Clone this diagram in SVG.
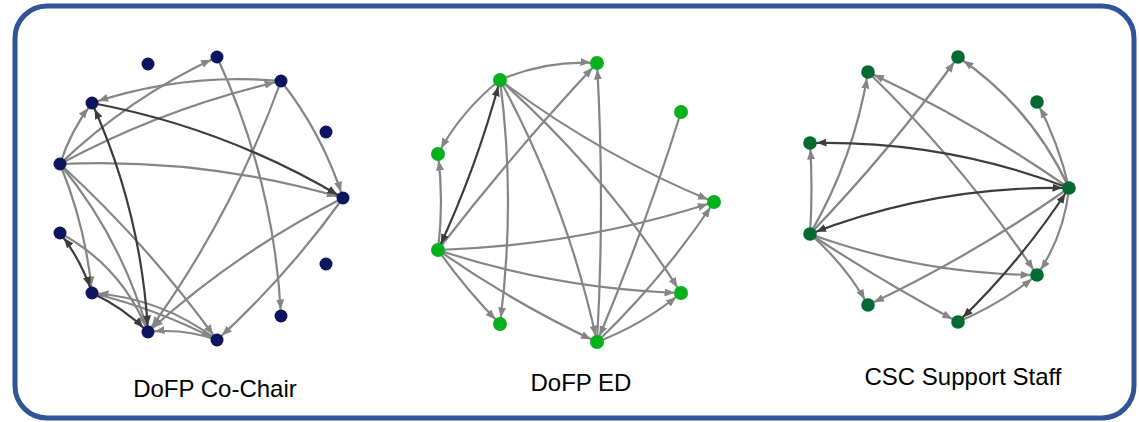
<svg xmlns="http://www.w3.org/2000/svg" width="1139" height="422" viewBox="0 0 1139 422">
<style>
.e{fill:none;stroke:#858585;stroke-width:2.2}
.dk{fill:none;stroke:#3c3c3c;stroke-width:2.2}
.n1{fill:#0c165e}
.n2{fill:#07b01d}
.n3{fill:#036a31}
.lbl{font-family:"Liberation Sans",Arial,sans-serif;font-size:24px;fill:#000;text-anchor:middle}
</style>
<defs>
<marker id="aL" markerUnits="userSpaceOnUse" markerWidth="10" markerHeight="8" refX="16.5" refY="4" orient="auto-start-reverse"><path d="M0,0 L10,4 L0,8 z" fill="#858585"/></marker>
<marker id="aD" markerUnits="userSpaceOnUse" markerWidth="10" markerHeight="8" refX="16.5" refY="4" orient="auto-start-reverse"><path d="M0,0 L10,4 L0,8 z" fill="#3c3c3c"/></marker>
</defs>
<rect x="0" y="0" width="1139" height="422" fill="#fff"/>
<rect id="frame" x="15" y="6" width="1119" height="412" rx="32" ry="32" fill="none" stroke="#2f5597" stroke-width="5"/>

<g id="connectors">
<!-- graph 1 -->
<g marker-end="url(#aL)">
<path class="e" d="M60 164 Q129.5 97.3 217 57"/>
<path class="e" d="M60 164 Q164.9 107.5 281 81"/>
<path class="e" d="M60 164 Q70.7 130.7 92 103"/>
<path class="e" d="M60 164 Q204.3 157.2 343 198"/>
<path class="e" d="M60 164 Q85.7 226.1 92 293"/>
<path class="e" d="M60 164 Q121.6 238.8 148 332"/>
<path class="e" d="M60 164 Q147.5 244 217 340"/>
<path class="e" d="M281 81 Q184.1 72.2 92 103"/>
<path class="e" d="M281 81 Q322.6 133.9 343 198"/>
<path class="e" d="M281 81 Q232.2 215.9 148 332"/>
<path class="e" d="M217 57 Q274.2 180.3 281 316"/>
<path class="e" d="M343 198 Q236.5 251.8 148 332"/>
<path class="e" d="M343 198 Q287.5 275.6 217 340"/>
<path class="e" d="M60 233 Q122 266.5 148 332"/>
<path class="e" d="M217 340 Q161.5 297.9 92 293"/>
<path class="e" d="M92 293 Q157.3 309.1 217 340"/>
<path class="e" d="M217 340 Q183.4 328 148 332"/>
</g>
<g marker-end="url(#aD)">
<path class="dk" d="M92 103 Q226 128 343 198"/>
<path class="dk" d="M92 103 Q141.4 212.3 148 332" marker-start="url(#aD)"/>
<path class="dk" d="M60 233 Q81.3 260.2 92 293" marker-start="url(#aD)"/>
<path class="dk" d="M92 293 Q123.4 307.6 148 332"/>
</g>
<!-- graph 2 -->
<g marker-end="url(#aL)">
<path class="e" d="M500 80 Q546.4 59.7 597 63"/>
<path class="e" d="M500 80 Q461.3 110.6 438 154"/>
<path class="e" d="M500 80 Q516 202 500 324"/>
<path class="e" d="M500 80 Q567.3 204 597 342"/>
<path class="e" d="M500 80 Q605.7 173.5 681 293"/>
<path class="e" d="M500 80 Q599 155 714 202"/>
<path class="e" d="M438 250 Q444 202 438 154"/>
<path class="e" d="M438 250 Q512.9 152.7 597 63"/>
<path class="e" d="M438 250 Q579.4 245.7 714 202"/>
<path class="e" d="M438 250 Q556.4 289.2 681 293"/>
<path class="e" d="M438 250 Q513.5 303 597 342"/>
<path class="e" d="M438 250 Q466 289.6 500 324"/>
<path class="e" d="M597 342 Q605 202.5 597 63"/>
<path class="e" d="M597 342 Q663.2 278.4 714 202"/>
<path class="e" d="M597 342 Q643 324.5 681 293"/>
<path class="e" d="M681 112 Q644.6 229 597 342"/>
</g>
<g marker-end="url(#aD)">
<path class="dk" d="M500 80 Q476.5 167.7 438 250" marker-start="url(#aD)"/>
</g>
<!-- graph 3 -->
<g marker-end="url(#aL)">
<path class="e" d="M1069 188 Q973.5 121.4 868 72"/>
<path class="e" d="M1069 188 Q1031.7 107.1 958 57"/>
<path class="e" d="M1069 188 Q1058.6 143 1037 102"/>
<path class="e" d="M1069 188 Q1064.2 235.7 1037 275"/>
<path class="e" d="M1069 188 Q973.5 255.1 868 305"/>
<path class="e" d="M810 234 Q813 188.5 810 143"/>
<path class="e" d="M810 234 Q854 158.4 868 72"/>
<path class="e" d="M810 234 Q890.2 150.6 958 57"/>
<path class="e" d="M810 234 Q919.9 274.1 1037 275"/>
<path class="e" d="M810 234 Q845.2 264.5 868 305"/>
<path class="e" d="M810 234 Q882 281.4 958 322"/>
<path class="e" d="M868 72 Q963.3 164.5 1037 275"/>
<path class="e" d="M958 322 Q1000.6 303.7 1037 275"/>
</g>
<g marker-end="url(#aD)">
<path class="dk" d="M1069 188 Q943.9 139.9 810 143"/>
<path class="dk" d="M810 234 Q934.9 185.4 1069 188" marker-start="url(#aD)"/>
<path class="dk" d="M1069 188 Q1021.2 261.4 958 322" marker-start="url(#aD)"/>
</g>
</g>

<!-- graph 1 nodes -->
<g id="g1-A"><circle class="n1" cx="148" cy="64" r="6.5"/></g>
<g id="g1-B"><circle class="n1" cx="217" cy="57" r="6.5"/></g>
<g id="g1-C"><circle class="n1" cx="281" cy="81" r="6.5"/></g>
<g id="g1-D"><circle class="n1" cx="92" cy="103" r="6.5"/></g>
<g id="g1-E"><circle class="n1" cx="326" cy="132" r="6.5"/></g>
<g id="g1-F"><circle class="n1" cx="60" cy="164" r="6.5"/></g>
<g id="g1-G"><circle class="n1" cx="343" cy="198" r="6.5"/></g>
<g id="g1-H"><circle class="n1" cx="60" cy="233" r="6.5"/></g>
<g id="g1-I"><circle class="n1" cx="326" cy="264" r="6.5"/></g>
<g id="g1-J"><circle class="n1" cx="92" cy="293" r="6.5"/></g>
<g id="g1-K"><circle class="n1" cx="281" cy="316" r="6.5"/></g>
<g id="g1-L"><circle class="n1" cx="148" cy="332" r="6.5"/></g>
<g id="g1-M"><circle class="n1" cx="217" cy="340" r="6.5"/></g>

<!-- graph 2 nodes -->
<g id="g2-P"><circle class="n2" cx="500" cy="80" r="7"/></g>
<g id="g2-Q"><circle class="n2" cx="597" cy="63" r="7"/></g>
<g id="g2-R"><circle class="n2" cx="681" cy="112" r="7"/></g>
<g id="g2-S"><circle class="n2" cx="438" cy="154" r="7"/></g>
<g id="g2-T"><circle class="n2" cx="714" cy="202" r="7"/></g>
<g id="g2-U"><circle class="n2" cx="438" cy="250" r="7"/></g>
<g id="g2-V"><circle class="n2" cx="681" cy="293" r="7"/></g>
<g id="g2-W"><circle class="n2" cx="500" cy="324" r="7"/></g>
<g id="g2-X"><circle class="n2" cx="597" cy="342" r="7"/></g>

<!-- graph 3 nodes -->
<g id="g3-a"><circle class="n3" cx="868" cy="72" r="6.8"/></g>
<g id="g3-b"><circle class="n3" cx="958" cy="57" r="6.8"/></g>
<g id="g3-c"><circle class="n3" cx="1037" cy="102" r="6.8"/></g>
<g id="g3-d"><circle class="n3" cx="810" cy="143" r="6.8"/></g>
<g id="g3-e"><circle class="n3" cx="1069" cy="188" r="6.8"/></g>
<g id="g3-f"><circle class="n3" cx="810" cy="234" r="6.8"/></g>
<g id="g3-g"><circle class="n3" cx="1037" cy="275" r="6.8"/></g>
<g id="g3-h"><circle class="n3" cx="868" cy="305" r="6.8"/></g>
<g id="g3-i"><circle class="n3" cx="958" cy="322" r="6.8"/></g>

<g id="label-cochair"><text class="lbl" x="215" y="397">DoFP Co-Chair</text></g>
<g id="label-ed"><text class="lbl" x="581" y="391">DoFP ED</text></g>
<g id="label-csc"><text class="lbl" x="963" y="385">CSC Support Staff</text></g>
</svg>
